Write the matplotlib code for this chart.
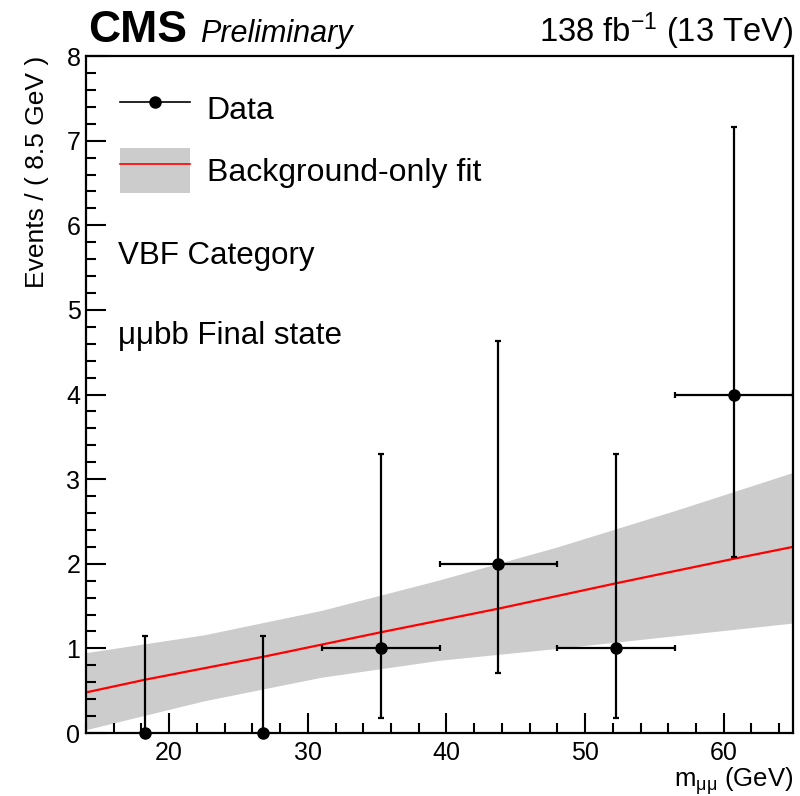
import numpy as np
import matplotlib
matplotlib.use("Agg")
import matplotlib.pyplot as plt
from matplotlib.lines import Line2D
from matplotlib.patches import Patch
from matplotlib.ticker import MultipleLocator

plt.rcParams['font.family'] = ['Liberation Sans', 'DejaVu Sans']
plt.rcParams['mathtext.fontset'] = 'custom'
plt.rcParams['mathtext.rm'] = 'Liberation Sans'
plt.rcParams['mathtext.it'] = 'Liberation Sans:italic'
plt.rcParams['mathtext.bf'] = 'Liberation Sans:bold'

# ---- data ----
bin_centers = [18.25, 26.75, 35.25, 43.75, 52.25, 60.75]
bin_halfwidth = 4.25
counts = [0, 0, 1, 2, 1, 4]
err_low = [0.0, 0.0, 0.827, 1.292, 0.827, 1.914]
err_high = [1.148, 1.148, 2.300, 2.638, 2.300, 3.163]

fit_x = [14, 18.25, 26.75, 35.25, 43.75, 52.25, 60.75, 65]
fit_y = [0.48, 0.63, 0.90, 1.19, 1.47, 1.77, 2.06, 2.20]

band_x = [14, 22.5, 31, 39.5, 48, 56.5, 65]
band_lo = [0.04, 0.38, 0.66, 0.86, 1.00, 1.15, 1.30]
band_hi = [0.95, 1.16, 1.45, 1.81, 2.20, 2.63, 3.08]

xticks = [20, 30, 40, 50, 60]
yticks = [0, 1, 2, 3, 4, 5, 6, 7, 8]

fig = plt.figure(figsize=(8, 7.96), dpi=100)
ax = fig.add_axes([0.1075, 0.0791, 0.8838, 0.8505])

ax.fill_between(band_x, band_lo, band_hi, color='#cccccc', lw=0, zorder=1)
ax.plot(fit_x, fit_y, color='red', lw=1.6, zorder=2)

c = np.array(counts)
bc = np.array(bin_centers)
ax.errorbar(bc, c, yerr=[err_low, err_high], fmt='o', color='black', ms=8,
            lw=1.6, capsize=2.5, capthick=1.6, zorder=4, clip_on=False)
nz = c > 0
ax.errorbar(bc[nz], c[nz], xerr=bin_halfwidth, fmt='none', ecolor='black',
            lw=1.6, capsize=2.5, capthick=1.6, zorder=3)

ax.set_xlim(14, 65)
ax.set_ylim(0, 8)
ax.set_xticks(xticks)
ax.set_yticks(yticks)
ax.xaxis.set_minor_locator(MultipleLocator(2))
ax.yaxis.set_minor_locator(MultipleLocator(0.2))
ax.tick_params(which='both', direction='in', top=False, right=False, width=1.5)
ax.tick_params(which='major', length=14.4, labelsize=18)
ax.tick_params(which='minor', length=7.2)
ax.tick_params(axis='x', pad=6)
ax.tick_params(axis='y', pad=4)
for s in ax.spines.values():
    s.set_linewidth(1.6)

ax.set_ylabel('Events / ( 8.5 GeV )', fontsize=19, loc='top')
ax.yaxis.set_label_coords(-0.052, 1.0)
ax.set_xlabel(r'$\mathrm{m_{\mu\mu}}$ (GeV)', fontsize=18.5, loc='right')
ax.xaxis.set_label_coords(1.0, -0.047)

handles = [Line2D([], [], color='black', marker='o', ms=8, lw=1.2),
           (Patch(facecolor='#cccccc', edgecolor='none'), Line2D([], [], color='red', lw=1.2))]
ax.legend(handles, ['Data', 'Background-only fit'], loc='upper left',
          bbox_to_anchor=(0.048, 0.956), frameon=False, fontsize=23,
          handlelength=2.19, handleheight=1.79, labelspacing=0.53,
          handletextpad=0.53, borderpad=0, borderaxespad=0, numpoints=1)

ax.text(0.045, 0.705, 'VBF Category', transform=ax.transAxes, fontsize=22.5, va='center')
ax.text(0.045, 0.587, 'μμbb Final state', transform=ax.transAxes, fontsize=22.5, va='center')

fig.text(88/800, 1 - 42/796, 'CMS', fontsize=32, fontweight='bold', ha='left', va='baseline')
fig.text(200/800, 1 - 42/796, 'Preliminary', fontsize=22, style='italic', ha='left', va='baseline')
fig.text(793/800, 1 - 42/796, r'138 fb$^{-1}$ (13 TeV)', fontsize=23.5, ha='right', va='baseline')

fig.savefig('out.png', dpi=100)
